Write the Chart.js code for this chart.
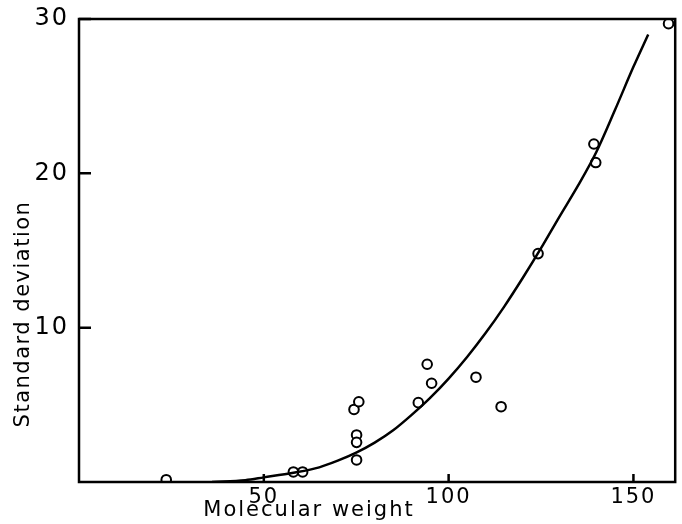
<!DOCTYPE html>
<html>
<head>
<meta charset="utf-8">
<script src="https://cdn.jsdelivr.net/npm/chart.js@4.4.0/dist/chart.umd.min.js"></script>
<style>
  html, body { margin: 0; padding: 0; background: #fff; }
  #wrap { width: 682px; height: 524px; }
</style>
</head>
<body>
<div id="wrap"><canvas id="c" width="682" height="524"></canvas></div>
<script>
// Observed points: molecular weight vs standard deviation
const pointX = [23.6, 58.0, 60.5, 74.4, 75.7, 75.1, 75.1, 75.1, 91.8, 94.2, 95.4, 107.4, 114.2, 124.2, 139.3, 139.8, 159.5];
const pointY = [0.15, 0.65, 0.65, 4.7, 5.2, 3.05, 2.57, 1.43, 5.14, 7.63, 6.4, 6.79, 4.88, 14.8, 21.9, 20.7, 29.7];

// Fitted curve
const curveX = [36, 45, 50, 58, 65, 70, 75, 80, 85, 90, 95, 100, 105, 110, 115, 120, 125, 130, 135, 140, 145, 150, 154];
const curveY = [0, 0.12, 0.3, 0.6, 0.95, 1.38, 1.9, 2.55, 3.35, 4.35, 5.45, 6.7, 8.1, 9.65, 11.35, 13.2, 15.15, 17.2, 19.2, 21.4, 24.1, 26.9, 29.0];

const xTicks = [50, 100, 150];
const yTicks = [10, 20, 30];
const xTitle = 'Molecular weight';
const yTitle = 'Standard deviation';

const pts = pointX.map((x, i) => ({ x, y: pointY[i] }));
const curve = curveX.map((x, i) => ({ x, y: curveY[i] }));

const FONT = '"DejaVu Sans", sans-serif';

const framePlugin = {
  id: 'frame',
  beforeDraw(chart) {
    chart.ctx.letterSpacing = '2px';
  },
  afterDraw(chart) {
    const ctx = chart.ctx;
    const a = chart.chartArea;
    const xs = chart.scales.x, ys = chart.scales.y;
    ctx.save();
    ctx.strokeStyle = '#000';
    ctx.lineWidth = 2.5;
    ctx.strokeRect(a.left, a.top, a.right - a.left, a.bottom - a.top);
    // inward tick marks
    ctx.beginPath();
    xTicks.forEach(v => {
      const px = xs.getPixelForValue(v);
      ctx.moveTo(px, a.bottom);
      ctx.lineTo(px, a.bottom - 8);
    });
    yTicks.forEach(v => {
      const py = ys.getPixelForValue(v);
      ctx.moveTo(a.left, py);
      ctx.lineTo(a.left + 12, py);
    });
    ctx.stroke();
    // axis titles
    ctx.fillStyle = '#000';
    ctx.textAlign = 'center';
    ctx.textBaseline = 'middle';
    ctx.letterSpacing = '2px';
    ctx.font = '21px ' + FONT;
    ctx.fillText(xTitle, 309, 511);
    ctx.translate(24, 314);
    ctx.rotate(-Math.PI / 2);
    ctx.letterSpacing = '1.5px';
    ctx.fillText(yTitle, 0, 0);
    ctx.restore();
    ctx.letterSpacing = '0px';
  }
};

function noPad(s) {
  s.paddingTop = 0; s.paddingBottom = 0; s.paddingLeft = 0; s.paddingRight = 0;
}

new Chart(document.getElementById('c'), {
  type: 'scatter',
  data: {
    datasets: [
      {
        label: 'curve',
        data: curve,
        showLine: true,
        borderColor: '#000',
        borderWidth: 2.5,
        pointRadius: 0,
        cubicInterpolationMode: 'monotone',
        fill: false
      },
      {
        label: 'points',
        data: pts,
        pointStyle: 'circle',
        pointRadius: 4.8,
        pointBackgroundColor: '#fff',
        pointBorderColor: '#000',
        pointBorderWidth: 2,
        showLine: false
      }
    ]
  },
  options: {
    responsive: false,
    animation: false,
    devicePixelRatio: 1,
    layout: { padding: { left: 0, top: 19, right: 0, bottom: 0 } },
    plugins: {
      legend: { display: false },
      tooltip: { enabled: false },
      title: { display: false }
    },
    scales: {
      x: {
        type: 'linear',
        min: 0,
        max: 161.3,
        afterFit(s) { s.height = 42; noPad(s); },
        grid: { display: false, drawTicks: false },
        border: { display: false },
        ticks: {
          stepSize: 50,
          includeBounds: false,
          padding: 3,
          color: '#000',
          font: { family: FONT, size: 21 },
          maxRotation: 0,
          callback: v => (xTicks.includes(v) ? String(v) : '')
        }
      },
      y: {
        type: 'linear',
        min: 0,
        max: 30,
        afterFit(s) { s.width = 79; noPad(s); },
        grid: { display: false, drawTicks: false },
        border: { display: false },
        ticks: {
          stepSize: 10,
          padding: 10,
          color: '#000',
          font: { family: FONT, size: 24 },
          callback: v => (yTicks.includes(v) ? String(v) : '')
        }
      }
    }
  },
  plugins: [framePlugin]
});
</script>
</body>
</html>
